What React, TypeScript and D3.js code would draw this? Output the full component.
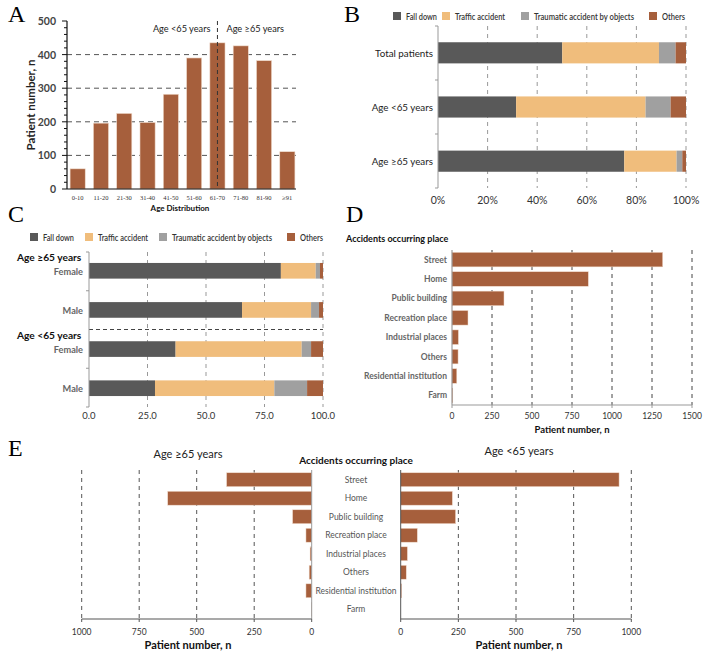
import * as d3 from "d3";

// ---- data ----
const ageGroups = ["0-10", "11-20", "21-30", "31-40", "41-50", "51-60", "61-70", "71-80", "81-90", "≥91"];
const ageCounts = [60, 196, 225, 198, 282, 390, 435, 426, 382, 111];

const causes = ["Fall down", "Traffic accident", "Traumatic accident by objects", "Others"];
const causeColors = ["#595959", "#f0bd7c", "#a0a0a0", "#a65f3c"];
// printed width of each legend label in the original figure
const causeLabelWidths = [31, 50, 100, 23];

const groupsB = ["Total patients", "Age <65 years", "Age ≥65 years"];
const fallB = [50.1, 31.5, 75.1];
const trafficB = [39.0, 52.2, 21.1];
const objectsB = [6.7, 10.1, 2.3];
const othersB = [4.2, 6.2, 1.5];

const rowsC = ["≥65 Female", "≥65 Male", "<65 Female", "<65 Male"];
const rowLabelsC = ["Female", "Male", "Female", "Male"];
const fallC = [82.0, 65.4, 37.0, 28.2];
const trafficC = [14.9, 29.5, 53.9, 51.0];
const objectsC = [1.8, 3.4, 4.0, 14.0];
const othersC = [1.3, 1.7, 5.1, 6.8];

const places = ["Street", "Home", "Public building", "Recreation place", "Industrial places", "Others", "Residential institution", "Farm"];
const placeTotal = [1317, 852, 325, 100, 40, 38, 30, 5];
const placeOld = [370, 626, 83, 25, 7, 11, 25, 2];
const placeYoung = [947, 224, 238, 72, 29, 24, 4, 0];

const ticksA = [0, 100, 200, 300, 400, 500];
const ticksB = [0, 0.2, 0.4, 0.6, 0.8, 1];
const ticksC = [0, 25, 50, 75, 100];
const ticksD = [0, 250, 500, 750, 1000, 1250, 1500];
const ticksE = [0, 250, 500, 750, 1000];

const BROWN = "#a65f3c";
const SANS = "Lato, 'Open Sans', sans-serif";
const SERIF = "'Liberation Serif', 'DejaVu Serif', serif";

function stackRows(series: number[][]) {
  return series[0].map((_, i) => {
    let acc = 0;
    return series.map((s) => {
      const seg = [acc, acc + s[i]];
      acc += s[i];
      return seg;
    });
  });
}

function Legend({ y, xs }: { y: number; xs: number[] }) {
  return (
    <g fontFamily={SANS} fontSize={9.5} fontWeight={600} fill="#333">
      {causes.map((c, i) => (
        <g key={c}>
          <rect x={xs[i]} y={y - 4} width={8} height={8} fill={causeColors[i]} />
          <text x={xs[i] + 13} y={y + 3.5} textLength={causeLabelWidths[i]} lengthAdjust="spacingAndGlyphs">{c}</text>
        </g>
      ))}
    </g>
  );
}

function PanelA() {
  const x = d3.scaleBand().domain(ageGroups).range([66, 299]).paddingInner(0.35).paddingOuter(0.175);
  const y = d3.scaleLinear().domain([0, 500]).range([189, 21]);
  const minor = d3.range(0, 501, 20);
  const split = (x("61-70") ?? 0) + x.bandwidth() / 2;
  return (
    <g>
      <text x={8} y={22} fontFamily={SERIF} fontSize={24}>A</text>
      {ticksA.slice(1, -1).map((t) => (
        <line key={t} x1={67} x2={296} y1={y(t)} y2={y(t)} stroke="#555" strokeDasharray="5,4" />
      ))}
      {ageGroups.map((g, i) => (
        <rect key={g} x={x(g)} y={y(ageCounts[i])} width={x.bandwidth()} height={y(0) - y(ageCounts[i])} fill={BROWN} stroke="#f1dccd" strokeWidth={0.6} />
      ))}
      <line x1={split} x2={split} y1={21} y2={189} stroke="#333" strokeDasharray="4,3" />
      <text x={split - 7} y={32} textAnchor="end" fontFamily={SANS} fontSize={9.2} fill="#222">Age &lt;65 years</text>
      <text x={split + 9} y={32} fontFamily={SANS} fontSize={9.2} fill="#222">Age ≥65 years</text>
      <line x1={67} x2={67} y1={21} y2={189} stroke="#111" strokeWidth={1.2} />
      <line x1={67} x2={296} y1={189} y2={189} stroke="#111" strokeWidth={1.2} />
      {minor.map((t) => (
        <line key={t} x1={t % 100 === 0 ? 62 : 64} x2={67} y1={y(t)} y2={y(t)} stroke="#111" />
      ))}
      {ticksA.map((t) => (
        <text key={t} x={56} y={y(t) + 4} textAnchor="end" fontFamily={SANS} fontWeight={700} fontSize={10.5} fill="#444">{t}</text>
      ))}
      {ageGroups.map((g) => (
        <text key={g} x={(x(g) ?? 0) + x.bandwidth() / 2} y={200} textAnchor="middle" fontFamily={SERIF} fontSize={6.5} fill="#333">{g}</text>
      ))}
      <text transform="translate(35,105) rotate(-90)" textAnchor="middle" fontFamily={SANS} fontWeight={700} fontSize={11.5} fill="#222">Patient number, n</text>
      <text x={180} y={211} textAnchor="middle" fontFamily={SANS} fontWeight={700} fontSize={8} fill="#111">Age Distribution</text>
    </g>
  );
}

function PanelB() {
  const x = d3.scaleLinear().domain([0, 100]).range([438, 686]);
  const y = d3.scaleBand().domain(groupsB).range([26, 188]).paddingInner(0.61).paddingOuter(0.3);
  const rows = stackRows([fallB, trafficB, objectsB, othersB]);
  const bounds = [0, 1, 2, 3].map((i) => 26 + i * 54);
  return (
    <g>
      <text x={344} y={22} fontFamily={SERIF} fontSize={24}>B</text>
      <Legend y={16} xs={[393, 442, 521, 649]} />
      {ticksB.slice(1).map((t) => (
        <line key={t} x1={x(t * 100)} x2={x(t * 100)} y1={26} y2={188} stroke="#999" strokeDasharray="4,4" />
      ))}
      {groupsB.map((g, i) => (
        <g key={g}>
          {rows[i].map((seg, j) => (
            <rect key={j} x={x(seg[0])} y={y(g)} width={x(seg[1]) - x(seg[0])} height={y.bandwidth()} fill={causeColors[j]} />
          ))}
          <text x={433} y={(y(g) ?? 0) + y.bandwidth() / 2 + 4} textAnchor="end" fontFamily={SANS} fontSize={9.8} fill="#222">{g}</text>
        </g>
      ))}
      <line x1={438} x2={438} y1={26} y2={188} stroke="#999" />
      {bounds.map((b) => (
        <line key={b} x1={435} x2={438} y1={b} y2={b} stroke="#999" />
      ))}
      {ticksB.map((t) => (
        <text key={t} x={x(t * 100)} y={204} textAnchor="middle" fontFamily={SANS} fontSize={10.5} fill="#333">{d3.format(".0%")(t)}</text>
      ))}
    </g>
  );
}

function PanelC() {
  const x = d3.scaleLinear().domain([0, 100]).range([89, 323]);
  const y = d3.scaleBand().domain(rowsC).range([252, 407]).paddingInner(0.6).paddingOuter(0.28);
  const rows = stackRows([fallC, trafficC, objectsC, othersC]);
  const bounds = [0, 1, 3, 4].map((i) => 252 + i * (155 / 4));
  const mid = 252 + 2 * (155 / 4);
  return (
    <g>
      <text x={8} y={222} fontFamily={SERIF} fontSize={24}>C</text>
      <Legend y={237} xs={[30, 85, 159, 287]} />
      {ticksC.slice(1).map((t) => (
        <line key={t} x1={x(t)} x2={x(t)} y1={252} y2={407} stroke="#999" strokeDasharray="4,4" />
      ))}
      {rowsC.map((r, i) => (
        <g key={r}>
          {rows[i].map((seg, j) => (
            <rect key={j} x={x(seg[0])} y={y(r)} width={x(seg[1]) - x(seg[0])} height={y.bandwidth()} fill={causeColors[j]} />
          ))}
          <text x={83} y={(y(r) ?? 0) + y.bandwidth() / 2 + 4} textAnchor="end" fontFamily={SANS} fontWeight={700} fontSize={9.2} fill="#666">{rowLabelsC[i]}</text>
        </g>
      ))}
      <line x1={89} x2={323} y1={mid} y2={mid} stroke="#444" strokeDasharray="4,3" />
      <line x1={89} x2={89} y1={252} y2={407} stroke="#999" />
      {bounds.map((b) => (
        <line key={b} x1={86} x2={89} y1={b} y2={b} stroke="#999" />
      ))}
      <text x={17} y={261} fontFamily={SANS} fontWeight={700} fontSize={10.2} fill="#111">Age ≥65 years</text>
      <text x={17} y={339} fontFamily={SANS} fontWeight={700} fontSize={10.2} fill="#111">Age &lt;65 years</text>
      {ticksC.map((t) => (
        <text key={t} x={x(t)} y={419} textAnchor="middle" fontFamily={SANS} fontSize={9.5} fill="#333">{d3.format(".1f")(t)}</text>
      ))}
    </g>
  );
}

function PanelD() {
  const x = d3.scaleLinear().domain([0, 1500]).range([452, 692]);
  const y = d3.scaleBand().domain(places).range([250, 405]).paddingInner(0.25).paddingOuter(0.12);
  return (
    <g>
      <text x={346} y={222} fontFamily={SERIF} fontSize={24}>D</text>
      <text x={346} y={242} fontFamily={SANS} fontWeight={700} fontSize={9} fill="#111">Accidents occurring place</text>
      {ticksD.slice(1).map((t) => (
        <line key={t} x1={x(t)} x2={x(t)} y1={250} y2={405} stroke="#444" strokeDasharray="4,4" />
      ))}
      {places.map((p, i) => (
        <g key={p}>
          <rect x={x(0)} y={y(p)} width={x(placeTotal[i]) - x(0)} height={y.bandwidth()} fill={BROWN} stroke="#f1dccd" strokeWidth={0.5} />
          <text x={447} y={(y(p) ?? 0) + y.bandwidth() / 2 + 3} textAnchor="end" fontFamily={SANS} fontWeight={700} fontSize={8.5} fill="#666">{p}</text>
        </g>
      ))}
      <line x1={452} x2={452} y1={250} y2={405} stroke="#888" />
      <line x1={452} x2={692} y1={405} y2={405} stroke="#999" strokeWidth={1.2} />
      {ticksD.map((t) => (
        <g key={t}>
          <line x1={x(t)} x2={x(t)} y1={405} y2={408} stroke="#999" />
          <text x={x(t)} y={419} textAnchor="middle" fontFamily={SANS} fontSize={8.5} fill="#333">{t}</text>
        </g>
      ))}
      <text x={572} y={433} textAnchor="middle" fontFamily={SANS} fontWeight={700} fontSize={9.5} fill="#111">Patient number, n</text>
    </g>
  );
}

function PanelE() {
  const xl = d3.scaleLinear().domain([0, 1000]).range([311.7, 81.7]);
  const xr = d3.scaleLinear().domain([0, 1000]).range([400.7, 631.3]);
  const y = d3.scaleBand().domain(places).range([470, 619]).paddingInner(0.25).paddingOuter(0.15);
  return (
    <g>
      <text x={8} y={456} fontFamily={SERIF} fontSize={24}>E</text>
      <text x={188} y={458} textAnchor="middle" fontFamily={SANS} fontSize={11} fill="#222">Age ≥65 years</text>
      <text x={519} y={455} textAnchor="middle" fontFamily={SANS} fontSize={11} fill="#222">Age &lt;65 years</text>
      <text x={356} y={464} textAnchor="middle" fontFamily={SANS} fontWeight={700} fontSize={10} fill="#111">Accidents occurring place</text>
      {ticksE.slice(1).map((t) => (
        <g key={t}>
          <line x1={xl(t)} x2={xl(t)} y1={470} y2={619} stroke="#555" strokeDasharray="4,4" />
          <line x1={xr(t)} x2={xr(t)} y1={470} y2={619} stroke="#555" strokeDasharray="4,4" />
        </g>
      ))}
      {places.map((p, i) => (
        <g key={p}>
          <rect x={xl(placeOld[i])} y={y(p)} width={xl(0) - xl(placeOld[i])} height={y.bandwidth()} fill={BROWN} stroke="#f1dccd" strokeWidth={0.5} />
          <rect x={xr(0)} y={y(p)} width={xr(placeYoung[i]) - xr(0)} height={y.bandwidth()} fill={BROWN} stroke="#f1dccd" strokeWidth={0.5} />
          <text x={356} y={(y(p) ?? 0) + y.bandwidth() / 2 + 3} textAnchor="middle" fontFamily={SANS} fontSize={8.5} fill="#555">{p}</text>
        </g>
      ))}
      <line x1={311.7} x2={311.7} y1={470} y2={619} stroke="#999" />
      <line x1={400.7} x2={400.7} y1={470} y2={619} stroke="#555" />
      <line x1={81.7} x2={311.7} y1={619} y2={619} stroke="#555" strokeWidth={1.2} />
      <line x1={400.7} x2={631.3} y1={619} y2={619} stroke="#555" strokeWidth={1.2} />
      {ticksE.map((t) => (
        <g key={t}>
          <line x1={xl(t)} x2={xl(t)} y1={619} y2={622} stroke="#555" />
          <line x1={xr(t)} x2={xr(t)} y1={619} y2={622} stroke="#555" />
          <text x={xl(t)} y={635} textAnchor="middle" fontFamily={SANS} fontSize={8.5} fill="#333">{t}</text>
          <text x={xr(t)} y={635} textAnchor="middle" fontFamily={SANS} fontSize={8.5} fill="#333">{t}</text>
        </g>
      ))}
      <text x={188} y={649} textAnchor="middle" fontFamily={SANS} fontWeight={700} fontSize={11} fill="#111">Patient number, n</text>
      <text x={519} y={649} textAnchor="middle" fontFamily={SANS} fontWeight={700} fontSize={11} fill="#111">Patient number, n</text>
    </g>
  );
}

export default function App() {
  return (
    <svg width={708} height={655} style={{ position: "absolute", left: 0, top: 0, background: "#fff" }}>
      <rect width={708} height={655} fill="#fff" />
      <PanelA />
      <PanelB />
      <PanelC />
      <PanelD />
      <PanelE />
    </svg>
  );
}
